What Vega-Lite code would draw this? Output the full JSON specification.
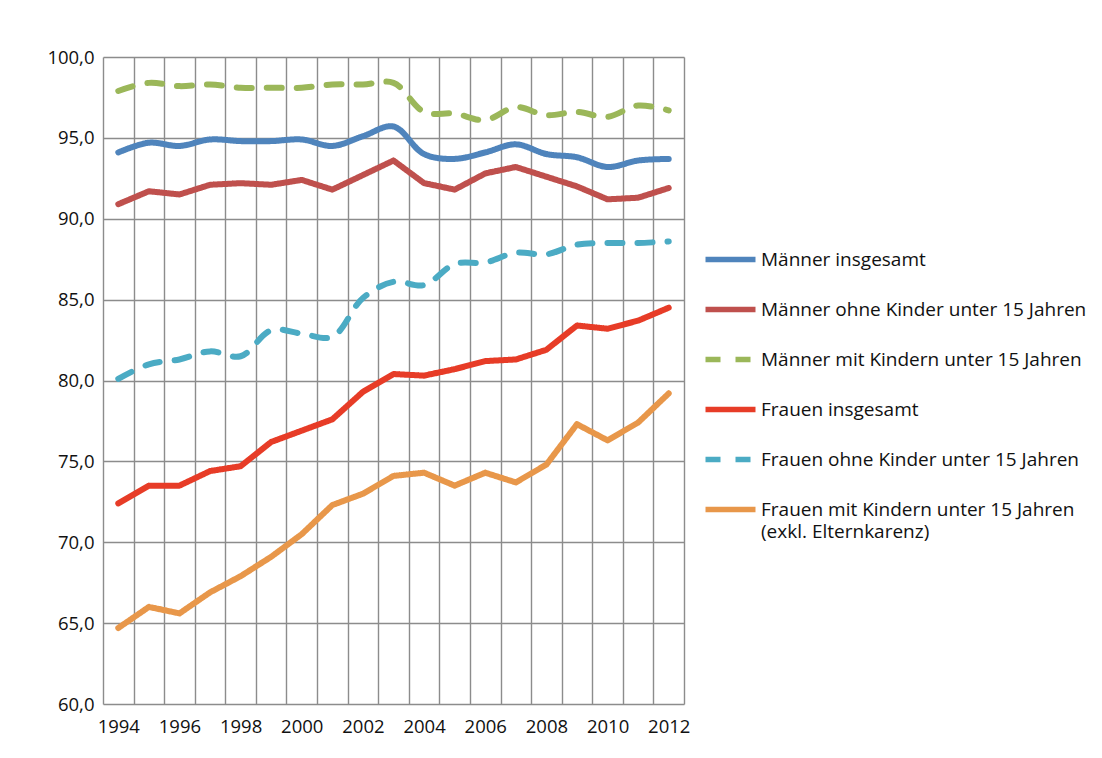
{
  "$schema": "https://vega.github.io/schema/vega-lite/v6.json",
  "width": 581,
  "height": 647,
  "autosize": {"type": "none"},
  "padding": {"left": 103, "top": 57, "right": 418, "bottom": 54},
  "background": "white",
  "config": {
    "font": "Open Sans",
    "view": {"stroke": null},
    "axis": {
      "grid": true,
      "gridColor": "#8c8c8c",
      "gridWidth": 1.4,
      "ticks": false,
      "domain": false,
      "labelFont": "Open Sans",
      "labelFontSize": 18.5,
      "labelColor": "#111111",
      "title": null
    }
  },
  "data": {
    "values": [
      {"year": 1994, "Männer insgesamt": 94.1, "Männer ohne Kinder unter 15 Jahren": 90.9, "Männer mit Kindern unter 15 Jahren": 97.9, "Frauen insgesamt": 72.4, "Frauen ohne Kinder unter 15 Jahren": 80.1, "Frauen mit Kindern unter 15 Jahren": 64.7},
      {"year": 1995, "Männer insgesamt": 94.7, "Männer ohne Kinder unter 15 Jahren": 91.7, "Männer mit Kindern unter 15 Jahren": 98.4, "Frauen insgesamt": 73.5, "Frauen ohne Kinder unter 15 Jahren": 81.0, "Frauen mit Kindern unter 15 Jahren": 66.0},
      {"year": 1996, "Männer insgesamt": 94.5, "Männer ohne Kinder unter 15 Jahren": 91.5, "Männer mit Kindern unter 15 Jahren": 98.2, "Frauen insgesamt": 73.5, "Frauen ohne Kinder unter 15 Jahren": 81.3, "Frauen mit Kindern unter 15 Jahren": 65.6},
      {"year": 1997, "Männer insgesamt": 94.9, "Männer ohne Kinder unter 15 Jahren": 92.1, "Männer mit Kindern unter 15 Jahren": 98.3, "Frauen insgesamt": 74.4, "Frauen ohne Kinder unter 15 Jahren": 81.8, "Frauen mit Kindern unter 15 Jahren": 66.9},
      {"year": 1998, "Männer insgesamt": 94.8, "Männer ohne Kinder unter 15 Jahren": 92.2, "Männer mit Kindern unter 15 Jahren": 98.1, "Frauen insgesamt": 74.7, "Frauen ohne Kinder unter 15 Jahren": 81.5, "Frauen mit Kindern unter 15 Jahren": 67.9},
      {"year": 1999, "Männer insgesamt": 94.8, "Männer ohne Kinder unter 15 Jahren": 92.1, "Männer mit Kindern unter 15 Jahren": 98.1, "Frauen insgesamt": 76.2, "Frauen ohne Kinder unter 15 Jahren": 83.1, "Frauen mit Kindern unter 15 Jahren": 69.1},
      {"year": 2000, "Männer insgesamt": 94.9, "Männer ohne Kinder unter 15 Jahren": 92.4, "Männer mit Kindern unter 15 Jahren": 98.1, "Frauen insgesamt": 76.9, "Frauen ohne Kinder unter 15 Jahren": 82.9, "Frauen mit Kindern unter 15 Jahren": 70.5},
      {"year": 2001, "Männer insgesamt": 94.5, "Männer ohne Kinder unter 15 Jahren": 91.8, "Männer mit Kindern unter 15 Jahren": 98.3, "Frauen insgesamt": 77.6, "Frauen ohne Kinder unter 15 Jahren": 82.7, "Frauen mit Kindern unter 15 Jahren": 72.3},
      {"year": 2002, "Männer insgesamt": 95.1, "Männer ohne Kinder unter 15 Jahren": 92.7, "Männer mit Kindern unter 15 Jahren": 98.3, "Frauen insgesamt": 79.3, "Frauen ohne Kinder unter 15 Jahren": 85.1, "Frauen mit Kindern unter 15 Jahren": 73.0},
      {"year": 2003, "Männer insgesamt": 95.7, "Männer ohne Kinder unter 15 Jahren": 93.6, "Männer mit Kindern unter 15 Jahren": 98.4, "Frauen insgesamt": 80.4, "Frauen ohne Kinder unter 15 Jahren": 86.1, "Frauen mit Kindern unter 15 Jahren": 74.1},
      {"year": 2004, "Männer insgesamt": 94.0, "Männer ohne Kinder unter 15 Jahren": 92.2, "Männer mit Kindern unter 15 Jahren": 96.6, "Frauen insgesamt": 80.3, "Frauen ohne Kinder unter 15 Jahren": 85.9, "Frauen mit Kindern unter 15 Jahren": 74.3},
      {"year": 2005, "Männer insgesamt": 93.7, "Männer ohne Kinder unter 15 Jahren": 91.8, "Männer mit Kindern unter 15 Jahren": 96.5, "Frauen insgesamt": 80.7, "Frauen ohne Kinder unter 15 Jahren": 87.2, "Frauen mit Kindern unter 15 Jahren": 73.5},
      {"year": 2006, "Männer insgesamt": 94.1, "Männer ohne Kinder unter 15 Jahren": 92.8, "Männer mit Kindern unter 15 Jahren": 96.1, "Frauen insgesamt": 81.2, "Frauen ohne Kinder unter 15 Jahren": 87.3, "Frauen mit Kindern unter 15 Jahren": 74.3},
      {"year": 2007, "Männer insgesamt": 94.6, "Männer ohne Kinder unter 15 Jahren": 93.2, "Männer mit Kindern unter 15 Jahren": 96.9, "Frauen insgesamt": 81.3, "Frauen ohne Kinder unter 15 Jahren": 87.9, "Frauen mit Kindern unter 15 Jahren": 73.7},
      {"year": 2008, "Männer insgesamt": 94.0, "Männer ohne Kinder unter 15 Jahren": 92.6, "Männer mit Kindern unter 15 Jahren": 96.4, "Frauen insgesamt": 81.9, "Frauen ohne Kinder unter 15 Jahren": 87.8, "Frauen mit Kindern unter 15 Jahren": 74.8},
      {"year": 2009, "Männer insgesamt": 93.8, "Männer ohne Kinder unter 15 Jahren": 92.0, "Männer mit Kindern unter 15 Jahren": 96.6, "Frauen insgesamt": 83.4, "Frauen ohne Kinder unter 15 Jahren": 88.4, "Frauen mit Kindern unter 15 Jahren": 77.3},
      {"year": 2010, "Männer insgesamt": 93.2, "Männer ohne Kinder unter 15 Jahren": 91.2, "Männer mit Kindern unter 15 Jahren": 96.3, "Frauen insgesamt": 83.2, "Frauen ohne Kinder unter 15 Jahren": 88.5, "Frauen mit Kindern unter 15 Jahren": 76.3},
      {"year": 2011, "Männer insgesamt": 93.6, "Männer ohne Kinder unter 15 Jahren": 91.3, "Männer mit Kindern unter 15 Jahren": 97.0, "Frauen insgesamt": 83.7, "Frauen ohne Kinder unter 15 Jahren": 88.5, "Frauen mit Kindern unter 15 Jahren": 77.4},
      {"year": 2012, "Männer insgesamt": 93.7, "Männer ohne Kinder unter 15 Jahren": 91.9, "Männer mit Kindern unter 15 Jahren": 96.7, "Frauen insgesamt": 84.5, "Frauen ohne Kinder unter 15 Jahren": 88.6, "Frauen mit Kindern unter 15 Jahren": 79.2}
    ]
  },
  "transform": [
    {"fold": ["Männer insgesamt", "Männer ohne Kinder unter 15 Jahren", "Männer mit Kindern unter 15 Jahren", "Frauen insgesamt", "Frauen ohne Kinder unter 15 Jahren", "Frauen mit Kindern unter 15 Jahren"], "as": ["series", "value"]}
  ],
  "encoding": {
    "x": {
      "field": "year",
      "type": "ordinal",
      "bandPosition": 0.5,
      "scale": {"type": "band", "paddingInner": 0, "paddingOuter": 0},
      "axis": {
        "tickBand": "extent",
        "labelAngle": 0,
        "labelPadding": 13,
        "labelExpr": "datum.value % 2 == 0 ? datum.label : ''"
      }
    },
    "y": {
      "field": "value",
      "type": "quantitative",
      "scale": {"domain": [60, 100], "nice": false, "zero": false},
      "axis": {
        "values": [60, 65, 70, 75, 80, 85, 90, 95, 100],
        "labelPadding": 9,
        "labelExpr": "replace(format(datum.value, '.1f'), '.', ',')"
      }
    },
    "color": {
      "field": "series",
      "type": "nominal",
      "sort": ["Männer insgesamt", "Männer ohne Kinder unter 15 Jahren", "Männer mit Kindern unter 15 Jahren", "Frauen insgesamt", "Frauen ohne Kinder unter 15 Jahren", "Frauen mit Kindern unter 15 Jahren"],
      "scale": {
        "domain": ["Männer insgesamt", "Männer ohne Kinder unter 15 Jahren", "Männer mit Kindern unter 15 Jahren", "Frauen insgesamt", "Frauen ohne Kinder unter 15 Jahren", "Frauen mit Kindern unter 15 Jahren"],
        "range": ["#4f84bc", "#bf504d", "#9bb759", "#e73c27", "#4babc4", "#e8974a"]
      },
      "legend": {
        "title": null,
        "orient": "none",
        "legendX": 612,
        "legendY": 187,
        "padding": 0,
        "symbolType": "M-2,0H2",
        "symbolSize": 625,
        "symbolStrokeWidth": 5.5,
        "labelFont": "Open Sans",
        "labelFontSize": 19,
        "labelColor": "#111111",
        "labelLimit": 420,
        "labelOffset": 15,
        "rowPadding": 23,
        "labelExpr": "datum.label == 'Frauen mit Kindern unter 15 Jahren' ? ['Frauen mit Kindern unter 15 Jahren', '(exkl. Elternkarenz)'] : datum.label",
        "encode": {"labels": {"update": {"lineHeight": {"value": 22}}}}
      }
    },
    "strokeDash": {
      "field": "series",
      "type": "nominal",
      "sort": ["Männer insgesamt", "Männer ohne Kinder unter 15 Jahren", "Männer mit Kindern unter 15 Jahren", "Frauen insgesamt", "Frauen ohne Kinder unter 15 Jahren", "Frauen mit Kindern unter 15 Jahren"],
      "scale": {
        "domain": ["Männer insgesamt", "Männer ohne Kinder unter 15 Jahren", "Männer mit Kindern unter 15 Jahren", "Frauen insgesamt", "Frauen ohne Kinder unter 15 Jahren", "Frauen mit Kindern unter 15 Jahren"],
        "range": [[1, 0], [1, 0], [15, 15], [1, 0], [15, 15], [1, 0]]
      },
      "legend": {
        "title": null,
        "orient": "none",
        "legendX": 612,
        "legendY": 187,
        "padding": 0,
        "symbolType": "M-2,0H2",
        "symbolSize": 625,
        "symbolStrokeWidth": 5.5,
        "labelFont": "Open Sans",
        "labelFontSize": 19,
        "labelColor": "#111111",
        "labelLimit": 420,
        "labelOffset": 15,
        "rowPadding": 23,
        "labelExpr": "datum.label == 'Frauen mit Kindern unter 15 Jahren' ? ['Frauen mit Kindern unter 15 Jahren', '(exkl. Elternkarenz)'] : datum.label",
        "encode": {"labels": {"update": {"lineHeight": {"value": 22}}}}
      }
    }
  },
  "layer": [
    {
      "transform": [{"filter": {"field": "series", "oneOf": ["Männer insgesamt", "Männer mit Kindern unter 15 Jahren", "Frauen ohne Kinder unter 15 Jahren"]}}],
      "mark": {"type": "line", "interpolate": "catmull-rom", "strokeWidth": 6, "strokeCap": "round", "strokeJoin": "round"}
    },
    {
      "transform": [{"filter": {"field": "series", "oneOf": ["Männer ohne Kinder unter 15 Jahren", "Frauen insgesamt", "Frauen mit Kindern unter 15 Jahren"]}}],
      "mark": {"type": "line", "strokeWidth": 6, "strokeCap": "round", "strokeJoin": "round"}
    }
  ]
}
